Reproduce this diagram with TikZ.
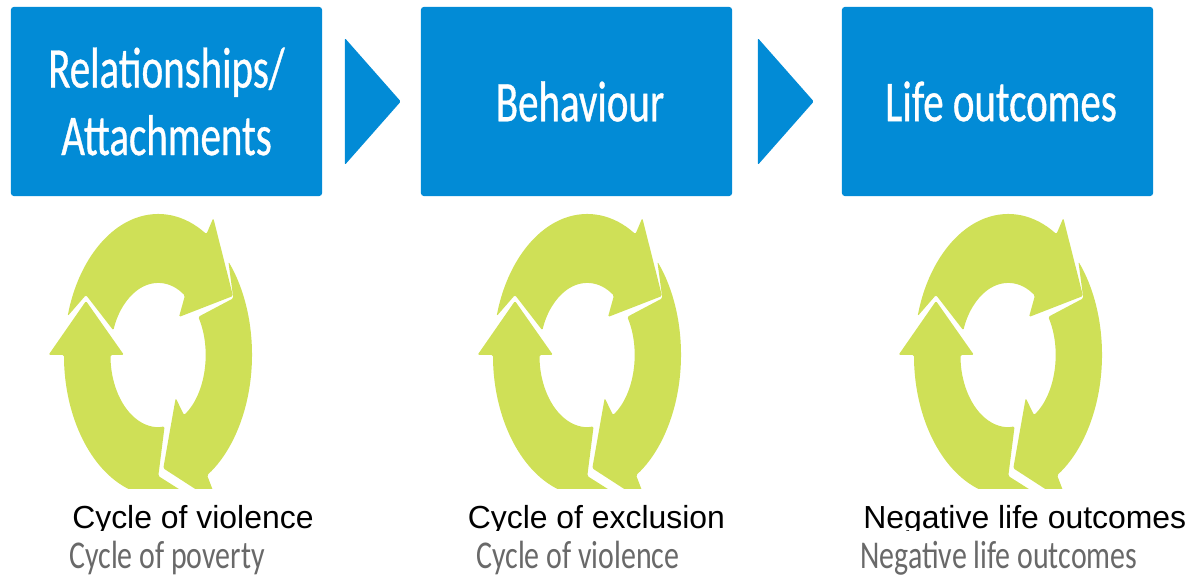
\documentclass[tikz,border=0pt]{standalone}
\usepackage{fontspec}
\usepackage{tikz}
\usetikzlibrary{shapes.geometric}
\setmainfont{Liberation Sans}
\newfontfamily\boxfont[FakeStretch=0.71, FakeBold=0.6]{Carlito}
\newfontfamily\lowfont[FakeStretch=0.76]{Carlito}
\xdefinecolor{boxblue}{RGB}{2, 139, 214}
\xdefinecolor{ringgreen}{RGB}{207, 224, 87}
\xdefinecolor{labelgrey}{RGB}{105, 105, 105}
\tikzset{
    stage/.style={rectangle, fill=boxblue, text=white, rounded corners=2pt, align=center,
        minimum width=7.775cm, minimum height=4.725cm, inner sep=0pt,
        font=\boxfont\fontsize{41}{48}\selectfont},
    pointer/.style={isosceles triangle, isosceles triangle stretches, fill=boxblue, rounded corners=1pt,
        minimum width=3.175cm, minimum height=1.4cm, inner sep=0pt, anchor=apex},
    ringarrow/.style={fill=ringgreen, rounded corners=1pt},
    toplabel/.style={anchor=base west, inner sep=0pt, font=\fontsize{22.7}{26}\selectfont},
    lowlabel/.style={anchor=base west, inner sep=0pt, text=labelgrey, font=\lowfont\fontsize{28}{32}\selectfont}
}
\begin{document}
\begin{tikzpicture}[x=0.025cm, y=0.025cm]
            \useasboundingbox (0, 0) rectangle (1190, 579);
            % Draw the three boxes along the top
            \node[stage] (Relations) at (166.5, 477.5) {Relationships/\\Attachments};
            \node[stage] (Behaviour) at (576.5, 477.5) {\hspace*{5pt}Behaviour};
            \node[stage] (Outcomes) at (997.5, 477.5) {\hspace*{5pt}Life outcomes};

            % Draw the triangles between the boxes
            \node[pointer] (Pointer_1) at (401.5, 477.5) {};
            \node[pointer] (Pointer_2) at (814.5, 477.5) {};

            % Draw the ring of three arrows under each box
            \foreach \x in {158, 587, 1008} {
                    \begin{scope}[shift={(\x, 224)}]
                        \clip (-120, -134) rectangle (120, 150);
                        % top arrow
                        \path[ringarrow] (164:94 and 141) arc[x radius=94, y radius=141, start angle=164, end angle=59]
                        -- (55.3, 137) -- (75, 59) -- (21, 38) -- (55.5:47.5 and 72)
                        arc[x radius=47.5, y radius=72, start angle=55.5, end angle=160] -- (-72, 60) -- cycle;
                        % right arrow
                        \path[ringarrow] (41.5:94 and 141) arc[x radius=94, y radius=141, start angle=41.5, end angle=-58.5]
                        -- (60, -148.7) -- (5.3, -113.3) -- (17.7, -43) -- (-56.7:47.5 and 72)
                        arc[x radius=47.5, y radius=72, start angle=-56.7, end angle=32] -- (75.3, 56.7) -- cycle;
                        % left arrow
                        \path[ringarrow] (-72, 54) -- (-34, 0) -- (-47.5, 0)
                        arc[x radius=47.5, y radius=72, start angle=180, end angle=278] -- (0.3, -121) -- (285:94 and 141)
                        arc[x radius=94, y radius=141, start angle=285, end angle=180] -- (-109.5, 0) -- cycle;
                    \end{scope}
                }

            % Add the labels, the upper row is cut off at the bottom
            \begin{scope}
                \clip (0, 49) rectangle (1190, 90);
                \node[toplabel] (Label_1) at (72, 51) {Cycle of violence};
                \node[toplabel] (Label_2) at (467.5, 51) {Cycle of exclusion};
                \node[toplabel] (Label_3) at (863, 51) {Negative life outcomes};
            \end{scope}
            \node[lowlabel] (Lower_1) at (69, 11) {Cycle of poverty};
            \node[lowlabel] (Lower_2) at (476, 11) {Cycle of violence};
            \node[lowlabel] (Lower_3) at (860, 11) {Negative life outcomes};
        \end{tikzpicture}
\end{document}
